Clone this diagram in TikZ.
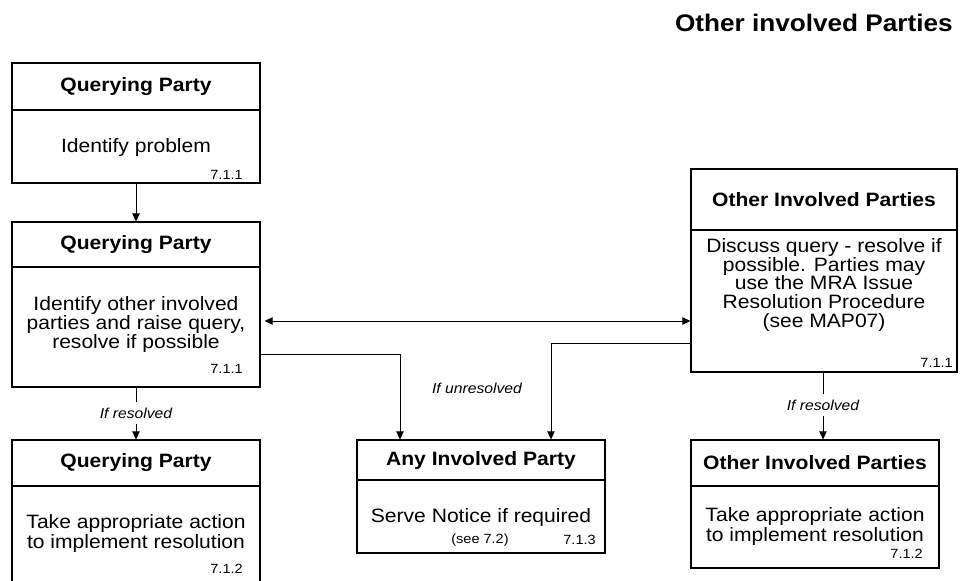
\documentclass[tikz,border=0pt]{standalone}
\usepackage{fontspec}
\setmainfont{Liberation Sans}[FakeStretch=1.09]
\usetikzlibrary{arrows.meta,fit}
\begin{document}
\begin{tikzpicture}[x=0.75pt,y=-0.75pt,
  box/.style={draw, line width=0.8pt, inner sep=0pt},
  divider/.style={line width=0.8pt},
  head/.style={font=\bfseries\fontsize{14.5}{14}\selectfont, inner sep=0pt},
  % multi-line bodies are anchored at the baseline of their last line
  body/.style={align=center, font=\fontsize{14.5}{13.9}\selectfont, inner sep=0pt, anchor=base},
  bodywide/.style={body, font=\fontsize{14.5}{15}\selectfont},
  num/.style={font=\fontsize{10}{12}\selectfont, inner sep=0pt, anchor=base east},
  lbl/.style={font=\itshape\fontsize{10.8}{12}\selectfont, fill=white, inner xsep=2pt, inner ysep=4.5pt},
  tip/.tip={Triangle[length=6pt,width=5.5pt]},
  conn/.style={line width=0.75pt, -tip},
  both/.style={line width=0.75pt, tip-tip}
]
\useasboundingbox (0,0) rectangle (960,581);
\clip (0,0) rectangle (960,581);

% title
\node[font=\bfseries\fontsize{18}{20}\selectfont, anchor=base east, inner sep=0pt] (title) at (953,32) {Other involved Parties};

% Querying Party: identify problem
\node[box, fit={(12,63) (260,183)}] (A) {};
\draw[divider] (12,110) -- (260,110);
\node[head] (Ah) at (136,86.5) {Querying Party};
\node[body] (Ab) at (136,153) {Identify problem};
\node[num] (An) at (243,180) {7.1.1};

% Querying Party: raise query
\node[box, fit={(12,222) (260,387)}] (B) {};
\draw[divider] (12,267) -- (260,267);
\node[head] (Bh) at (136,244.5) {Querying Party};
\node[body] (Bb) at (136,348) {Identify other involved\\parties and raise query,\\resolve if possible};
\node[num] (Bn) at (243,373) {7.1.1};

% Querying Party: take action
\node[box, fit={(12,440) (260,600)}] (C) {};
\draw[divider] (12,486) -- (260,486);
\node[head] (Ch) at (136,463) {Querying Party};
\node[bodywide] (Cb) at (136,548) {Take appropriate action\\to implement resolution};
\node[num] (Cn) at (243,573) {7.1.2};

% Any Involved Party
\node[box, fit={(357,440) (605,553)}] (D) {};
\draw[divider] (357,480) -- (605,480);
\node[head] (Dh) at (481,460) {Any Involved Party};
\node[body] (Db) at (481,522) {Serve Notice if required};
\node[num, anchor=base] (Dsee) at (480,543) {(see 7.2)};
\node[num] (Dn) at (596,544) {7.1.3};

% Other Involved Parties: discuss
\node[box, fit={(691,169) (957,372)}] (E) {};
\draw[divider] (691,230) -- (957,230);
\node[head] (Eh) at (824,199.5) {Other Involved Parties};
\node[body] (Eb) at (824,327) {Discuss query - resolve if\\possible. Parties may\\use the MRA Issue\\Resolution Procedure\\(see MAP07)};
\node[num] (En) at (953,367) {7.1.1};

% Other Involved Parties: take action
\node[box, fit={(691,440) (939,568)}] (F) {};
\draw[divider] (691,486) -- (939,486);
\node[head] (Fh) at (815,463) {Other Involved Parties};
\node[bodywide] (Fb) at (815,541) {Take appropriate action\\to implement resolution};
\node[num] (Fn) at (923,558) {7.1.2};

% connector levels
\coordinate (lvlq) at (0,321);
\coordinate (lvll) at (0,354);
\coordinate (lvlr) at (0,343);
\coordinate (dinL) at (400,0);
\coordinate (dinR) at (551,0);
\coordinate (edown) at (823,0);

\draw[conn] (A.south) -- (B.north);
\draw[both] ([xshift=3pt]B.east |- lvlq) -- (E.west |- lvlq);
\draw[conn] (B.east |- lvll) -| (D.north -| dinL);
\draw[conn] (E.west |- lvlr) -| (D.north -| dinR);
\draw[conn] (B.south) -- node[lbl, pos=0.49] (res1) {If resolved} (C.north);
\draw[conn] (E.south -| edown) -- node[lbl, pos=0.485] (res2) {If resolved} (F.north -| edown);
\node[font=\itshape\fontsize{10.8}{12}\selectfont, inner sep=0pt] (unres) at (477,388) {If unresolved};
\end{tikzpicture}
\end{document}
